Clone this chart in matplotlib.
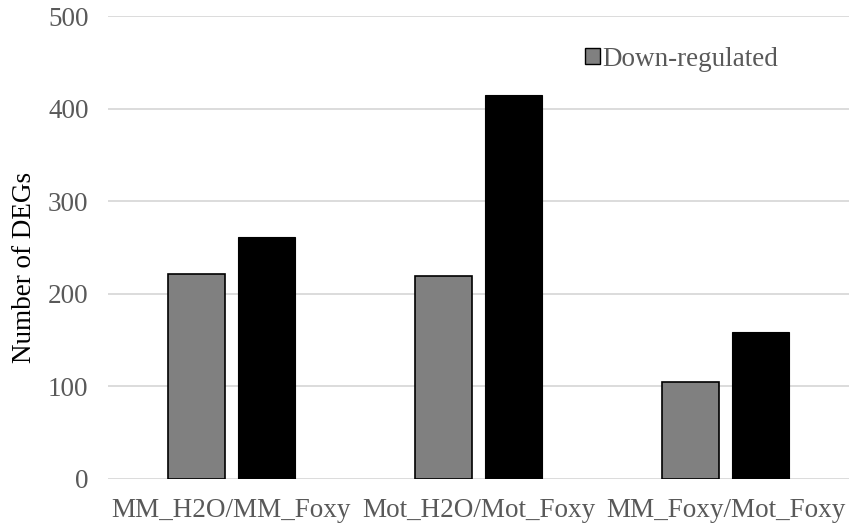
import matplotlib

matplotlib.use("Agg")
import matplotlib.pyplot as plt
import numpy as np
from matplotlib.patches import Patch

comparisons = ["MM_H2O/MM_Foxy", "Mot_H2O/Mot_Foxy", "MM_Foxy/Mot_Foxy"]
down_regulated = [221, 219, 105]
up_regulated = [261, 415, 159]
y_ticks = [0, 100, 200, 300, 400, 500]

plt.rcParams["font.family"] = ["Liberation Serif", "DejaVu Serif"]

fig = plt.figure(figsize=(8.49, 5.29), dpi=100)
ax = fig.add_axes([108 / 849, 50 / 529, 741 / 849, 463 / 529])

x = np.arange(len(comparisons)) + 0.5
width = 0.23
gap = 0.053
ax.bar(x - (width + gap) / 2, down_regulated, width, color="#808080",
       edgecolor="black", linewidth=1.2, zorder=3)
ax.bar(x + (width + gap) / 2, up_regulated, width, color="black",
       edgecolor="black", linewidth=0.8, zorder=3)

ax.set_xlim(0, len(comparisons))
ax.set_ylim(0, 500)
ax.set_yticks(y_ticks)
ax.yaxis.grid(True, color="#d9d9d9", linewidth=1.3, zorder=0)
ax.set_axisbelow(True)
for s in ax.spines.values():
    s.set_visible(False)
ax.tick_params(axis="both", length=0, labelsize=19.5, labelcolor="#595959")
ax.tick_params(axis="y", pad=14)
ax.tick_params(axis="x", pad=14)
ax.set_xticks(x)
ax.set_xticklabels(comparisons)
ax.set_ylabel("Number of DEGs", fontsize=19.5, labelpad=8)
# title sits a little below the middle of the plot area
ax.yaxis.label.set_y(0.458)

handles = [Patch(facecolor="#808080", edgecolor="black", linewidth=1.0)]
leg = ax.legend(handles, ["Down-regulated"], loc="center left",
                bbox_to_anchor=(477 / 741, 420 / 463), frameon=False,
                fontsize=19.5, handlelength=0.55, handleheight=0.55,
                handletextpad=0.1, borderaxespad=0, borderpad=0)
for t in leg.get_texts():
    t.set_color("#595959")

fig.savefig("out.png", dpi=100)
